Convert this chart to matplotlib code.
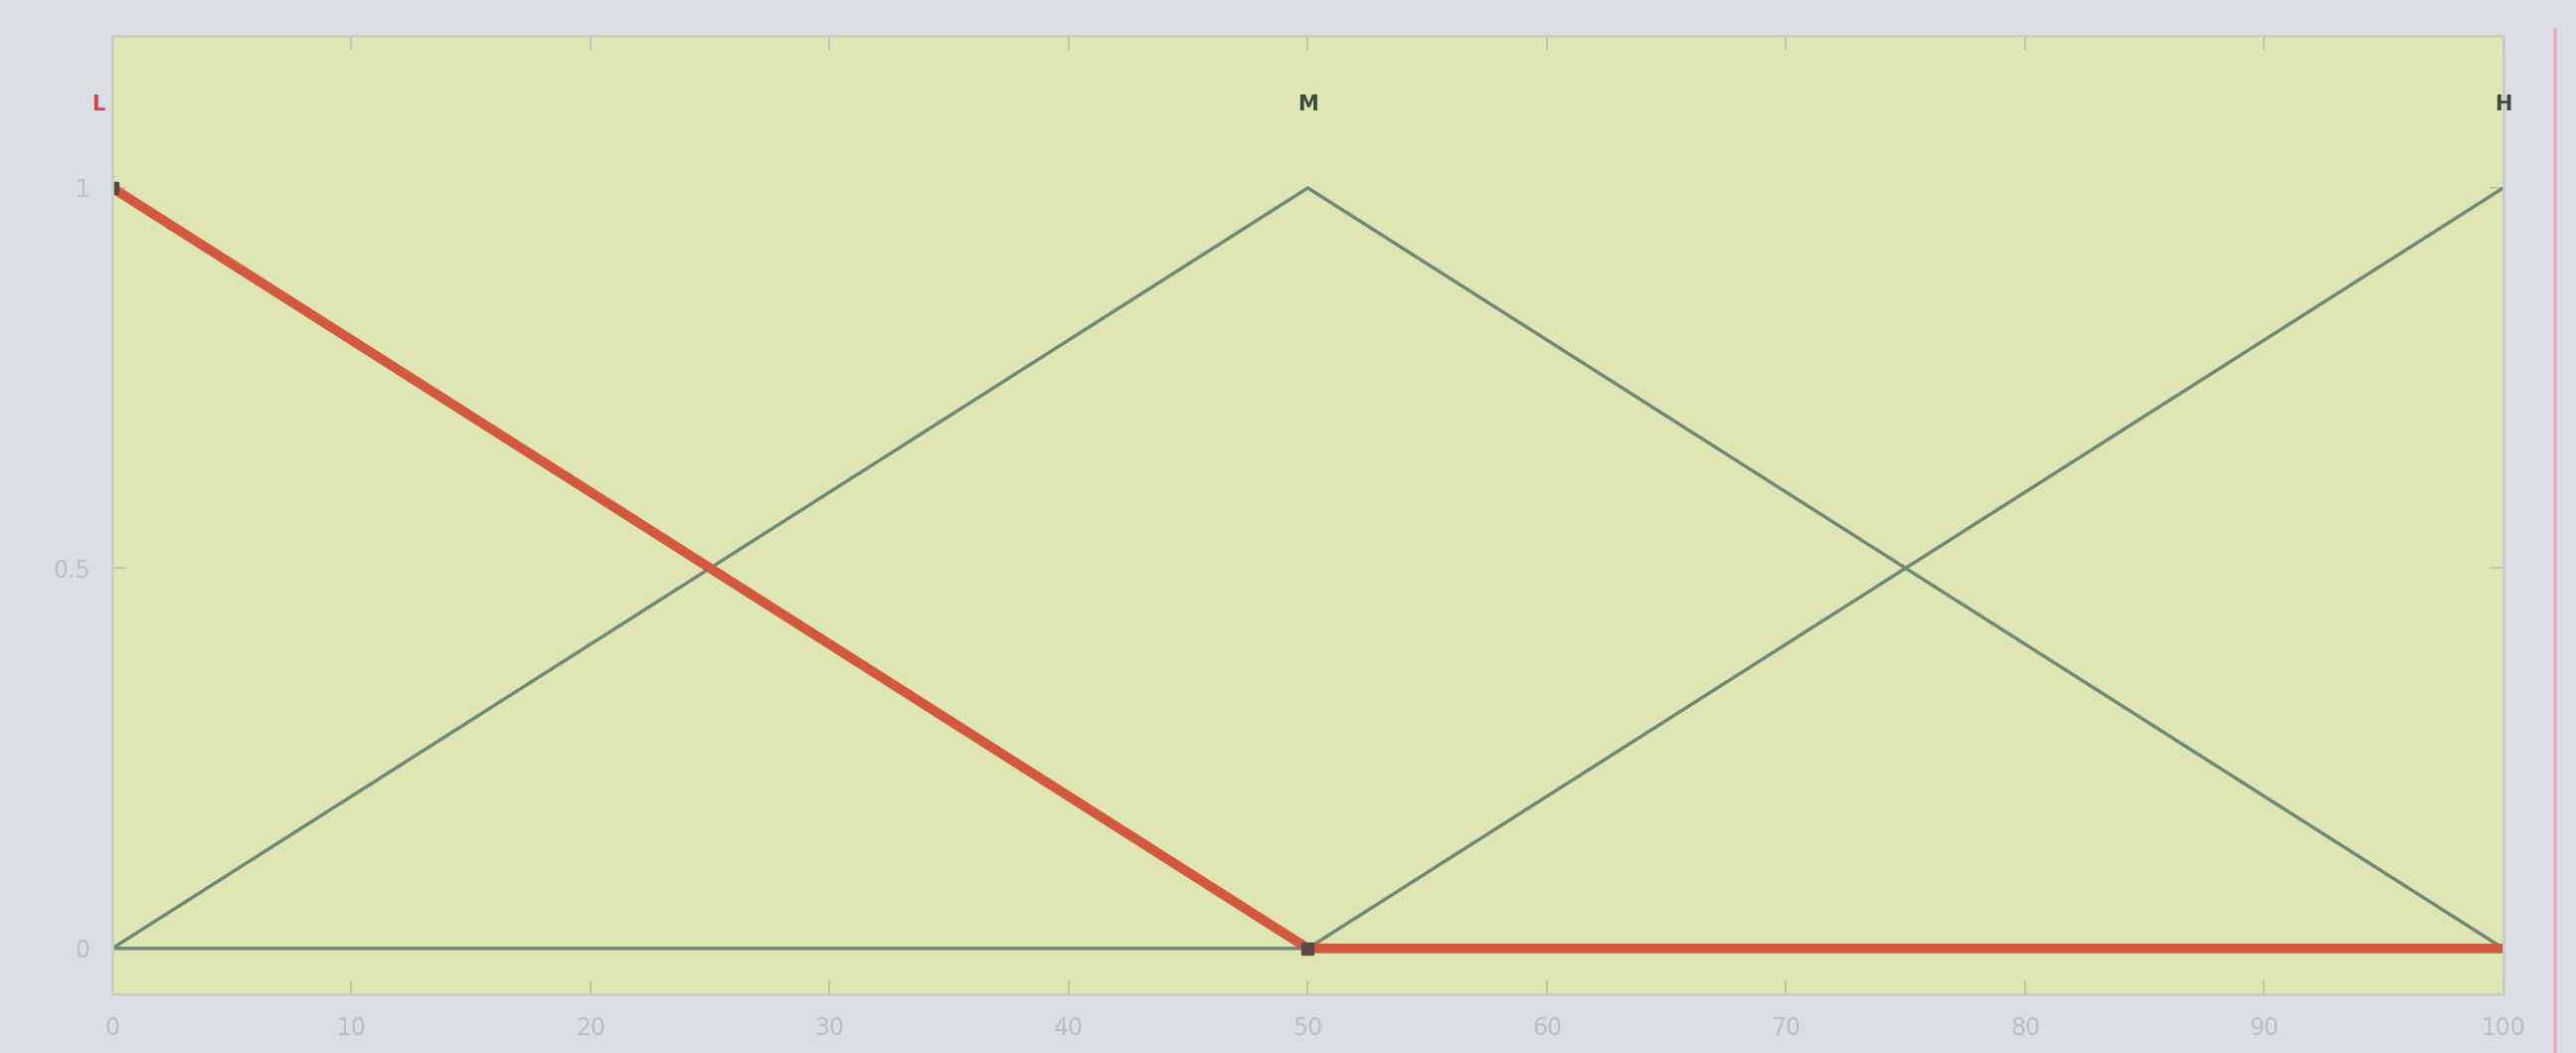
import numpy as np
import matplotlib.pyplot as plt
from matplotlib.lines import Line2D

# membership function breakpoints
x_pts = [0, 50, 100]
mf_L = [1, 0, 0]
mf_M = [0, 1, 0]
mf_H = [0, 0, 1]
mf_names = ["L", "M", "H"]
mf_peaks = [0, 50, 100]

xticks = [0, 10, 20, 30, 40, 50, 60, 70, 80, 90, 100]
yticks = [0, 0.5, 1]

fig = plt.figure(figsize=(25.91, 10.59), dpi=100, facecolor="#dcdee6")
ax = fig.add_axes([0.0436, 0.056, 0.9282, 0.910])
ax.set_facecolor("#dfe6b4")

# unselected functions
ax.plot(x_pts, mf_M, color="#6f8a76", lw=2.5)
ax.plot(x_pts, mf_H, color="#6f8a76", lw=2.5)
# selected function drawn on top
ax.plot(x_pts, mf_L, color="#d4583e", lw=7, solid_capstyle="butt")
ax.plot([0, 50], [1, 0], ls="none", marker="s", ms=8, color="#5a4848")

label_cols = ["#d8404e", "#3c4a40", "#3c4a40"]
label_x = [-0.6, 50, 100]
for name, px, c in zip(mf_names, label_x, label_cols):
    ax.text(px, 1.11, name, color=c, fontsize=15, fontweight="bold",
            ha="center", va="center", clip_on=False)

ax.set_xlim(0, 100)
ax.set_ylim(-0.06, 1.2)
ax.set_xticks(xticks)
ax.set_yticks(yticks)
ax.set_yticklabels(["0", "0.5", "1"])
ax.tick_params(direction="in", length=10, width=1.5, color="#c0c4b0",
               labelcolor="#babec8", labelsize=17, top=True, right=True, pad=16)
for s in ax.spines.values():
    s.set_color("#c8ccbc")
    s.set_linewidth(2)

# thin divider on the right side of the window
fig.add_artist(Line2D([0.9919, 0.9919], [0.0, 0.972], color="#e8b4bc", lw=3,
                      transform=fig.transFigure))

fig.savefig("out.png", dpi=100, facecolor=fig.get_facecolor())
